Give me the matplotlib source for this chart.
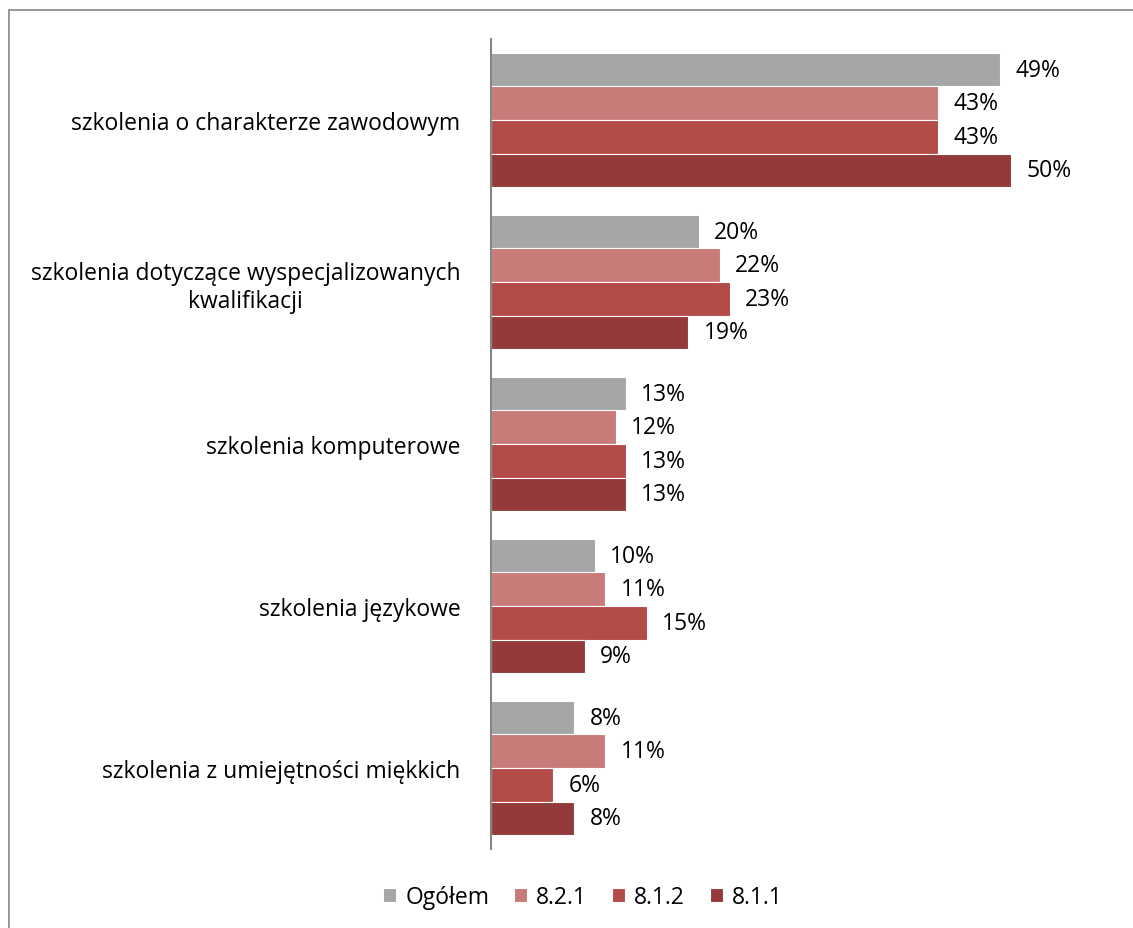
import numpy as np
import matplotlib.pyplot as plt
from matplotlib.patches import Rectangle

plt.rcParams["font.family"] = ["Open Sans", "DejaVu Sans"]

categories = [
    "szkolenia o charakterze zawodowym",
    "szkolenia dotyczące wyspecjalizowanych\nkwalifikacji",
    "szkolenia komputerowe",
    "szkolenia językowe",
    "szkolenia z umiejętności miękkich",
]
series_names = ["Ogółem", "8.2.1", "8.1.2", "8.1.1"]
ogolem = [49, 20, 13, 10, 8]
s821 = [43, 22, 12, 11, 11]
s812 = [43, 23, 13, 15, 6]
s811 = [50, 19, 13, 9, 8]
colors = ["#A6A6A6", "#C97B7A", "#B34B48", "#953A3A"]

W, H = 1133, 929
fig = plt.figure(figsize=(W / 100, H / 100), dpi=100)

# outer frame of the chart area (right and bottom sides fall outside)
fig.patches.append(Rectangle((9 / W, -0.1), 1.2, (H - 11) / H + 0.1,
                             transform=fig.transFigure, fill=False,
                             edgecolor="#868686", linewidth=1.2))

ax = fig.add_axes([491 / W, 79 / H, 606 / W, 810 / H])

n = len(categories)
y = np.arange(n)
bar_h = 0.207
values = [ogolem, s821, s812, s811]
for i, (name, vals, c) in enumerate(zip(series_names, values, colors)):
    pos = y - 1.5 * bar_h + i * bar_h
    bars = ax.barh(pos, vals, height=bar_h, color=c, edgecolor="white",
                   linewidth=0.8, label=name)
    for b, v in zip(bars, vals):
        ax.annotate(f"{v}%", (b.get_width(), b.get_y() + b.get_height() / 2),
                    xytext=(11, 0), textcoords="offset points",
                    va="center", ha="left", fontsize=16.5, color="#000000")

ax.set_xlim(0, 58.3)
ax.set_ylim(n - 0.5, -0.5)
ax.set_yticks(y)
ax.set_yticklabels(categories, fontsize=16.5, multialignment="center")
ax.tick_params(axis="y", length=0, pad=22)
ax.set_xticks([])
for s in ["top", "right", "bottom"]:
    ax.spines[s].set_visible(False)
ax.spines["left"].set_color("#868686")
ax.spines["left"].set_linewidth(1.5)

fig.legend(loc="center", bbox_to_anchor=(583 / W, 31 / H), ncol=4, frameon=False,
           fontsize=16.5, handlelength=0.55, handleheight=0.55, handletextpad=0.4,
           columnspacing=1.1)

fig.savefig("out.png", dpi=100)
